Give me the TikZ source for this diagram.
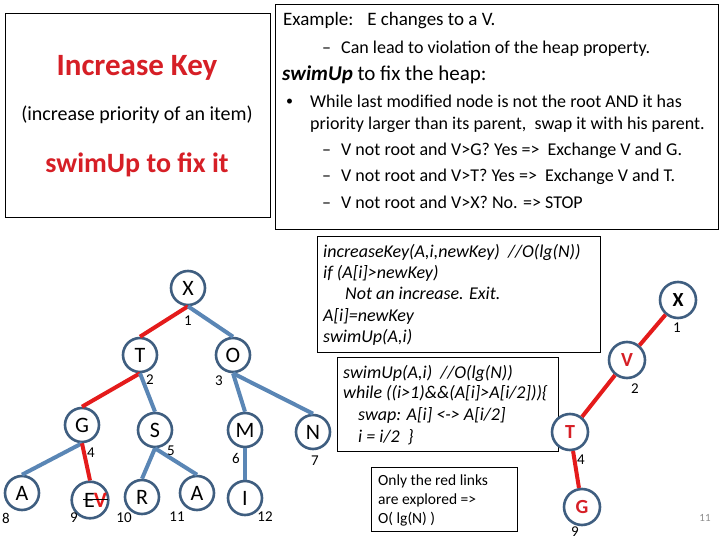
\documentclass[tikz,border=0pt]{standalone}
\usepackage{fontspec}
\setmainfont{Carlito}
\usepackage{xcolor}
\definecolor{ringblue}{HTML}{3F5E80}
\definecolor{linkblue}{HTML}{5A86B5}
\definecolor{linkred}{HTML}{E41B1B}
\definecolor{keyred}{HTML}{D61F26}
\definecolor{pagegray}{HTML}{8C8C8C}
\usetikzlibrary{positioning}

\newcommand{\fs}[1]{\fontsize{#1}{#1}\selectfont}

\begin{document}
\begin{tikzpicture}[
  x=1pt,y=-1pt,
  frame/.style={draw,line width=0.9pt,anchor=north west,inner sep=0pt},
  vertex/.style={circle,draw=ringblue,fill=white,line width=2.6pt,minimum size=34pt,inner sep=0pt,font=\fs{22}},
  bigvertex/.style={vertex,minimum size=36pt,font=\fs{20}\bfseries},
  idx/.style={inner sep=0pt,font=\fs{15}},
  link/.style={draw=linkblue,line width=4pt},
  redlink/.style={draw=linkred,line width=4pt},
  txt/.style={anchor=base west,inner sep=0pt,font=\fs{18}},
  code/.style={anchor=base west,inner sep=0pt,font=\fs{18}\itshape}
]
\useasboundingbox (0,0) rectangle (720,540);

% title box
\node[frame,minimum width=265pt,minimum height=204pt] (titlebox) at (5,13) {};
\node[font=\fs{31}\bfseries,text=keyred] (title) at (137,68) {Increase Key};
\node[font=\fs{20}] (subtitle) at (137,115) {(increase priority of an item)};
\node[font=\fs{28}\bfseries,text=keyred] (fixit) at (137,165) {swimUp to fix it};

% explanation box
\node[frame,minimum width=443pt,minimum height=225pt] (notebox) at (275,4) {};
\node[txt,font=\fs{19}] (example) at (283,26) {Example:\enspace\ E changes to a V.};
\node[txt] (d1) at (322,54) {--};
\node[txt] (lead) at (341,54) {Can lead to violation of the heap property.};
\node[txt,font=\fs{21}] (swimhead) at (282,81) {\textbf{\textit{swimUp}} to fix the heap:};
\node[txt,font=\fs{14}] (dot) at (286,106) {\textbullet};
\node[txt] (while) at (310,108) {While last modified node is not the root AND it has};
\node[txt] (prio) at (310,130) {priority larger than its parent,\ \ swap it with his parent.};
\node[txt] (d2) at (322,156) {--};
\node[txt] (stepG) at (341,156) {V not root and V>G? Yes =>\ \ Exchange V and G.};
\node[txt] (d3) at (322,182) {--};
\node[txt] (stepT) at (341,182) {V not root and V>T? Yes =>\ \ Exchange V and T.};
\node[txt] (d4) at (322,208) {--};
\node[txt] (stepX) at (341,208) {V not root and V>X? No. => STOP};

% code boxes
\node[frame,minimum width=283pt,minimum height=116pt] (incbox) at (317,236) {};
\node[code] (c1) at (323,257) {increaseKey(A,i,newKey)\ \ //O(lg(N))};
\node[code] (c2) at (323,278) {if (A[i]>newKey)};
\node[code] (c3) at (345,299) {Not an increase. Exit.};
\node[code] (c4) at (323,321) {A[i]=newKey};
\node[code] (c5) at (323,342) {swimUp(A,i)};

\node[frame,minimum width=221pt,minimum height=94pt] (swimbox) at (337,357) {};
\node[code] (s1) at (343,378) {swimUp(A,i)\ \ //O(lg(N))};
\node[code] (s2) at (343,398) {while ((i>1)\&\&(A[i]>A[i/2]))\{};
\node[code] (s3) at (358,420) {swap: A[i] <-> A[i/2]};
\node[code] (s4) at (358,442) {i = i/2\ \ \}};

\node[frame,minimum width=146pt,minimum height=64pt] (onlybox) at (371,467) {};
\node[txt,font=\fs{15.5}] (o1) at (378,485) {Only the red links};
\node[txt,font=\fs{15.5}] (o2) at (378,504) {are explored =>};
\node[txt,font=\fs{15.5}] (o3) at (378,523) {O( lg(N) )};

% heap before
\node[vertex] (X) at (188,288) {X};
\node[vertex] (T) at (140,355) {T};
\node[vertex] (O) at (233,355) {O};
\node[vertex] (G) at (82,425) {G};
\node[vertex] (S) at (155,430) {S};
\node[vertex] (M) at (245,430) {M};
\node[vertex] (N) at (313,432) {N};
\node[vertex] (A8) at (22,493) {A};
\node[vertex] (EV) at (90,500) {\hspace*{11pt}E\kern-1pt\textcolor{linkred}{\bfseries V}};
\node[vertex] (R) at (142,497) {R};
\node[vertex] (A11) at (197,493) {A};
\node[vertex] (I) at (245,498) {I};
\draw[line width=1pt] ([xshift=-7pt,yshift=1pt]EV.center) -- ([xshift=18pt,yshift=1pt]EV.center);

\draw[redlink] (X.south) -- (T.north);
\draw[link] (X.south) -- (O.north);
\draw[redlink] (T.south) -- (G.north);
\draw[link] (T.south) -- (S.north);
\draw[link] (O.south) -- (M.north);
\draw[link] (O.south) -- (N.north);
\draw[link] (G.south) -- (A8.north);
\draw[redlink] (G.south) -- (EV.north);
\draw[link] (S.south) -- (R.north);
\draw[link] (S.south) -- (A11.north);
\draw[link] (M.south) -- (I.north);

\node[idx] (i1) at (188,321) {1};
\node[idx] (i2) at (150,380) {2};
\node[idx] (i3) at (219,381) {3};
\node[idx] (i4) at (91,453) {4};
\node[idx] (i5) at (171,451) {5};
\node[idx] (i6) at (236,458) {6};
\node[idx] (i7) at (315,461) {7};
\node[idx] (i8) at (6,518) {8};
\node[idx] (i9) at (74,518) {9};
\node[idx] (i10) at (124,518) {10};
\node[idx] (i11) at (177,517) {11};
\node[idx] (i12) at (265,517) {12};

% heap after
\node[bigvertex] (rX) at (678,300) {X};
\node[bigvertex,text=keyred] (rV) at (627,360) {V};
\node[bigvertex,text=keyred] (rT) at (570,432) {T};
\node[bigvertex,text=keyred] (rG) at (582,507) {G};
\draw[redlink] (rX) -- (rV);
\draw[redlink] (rV) -- (rT);
\draw[redlink] (rT) -- (rG);
\node[idx] (r1) at (677,328) {1};
\node[idx] (r2) at (635,389) {2};
\node[idx] (r4) at (581,460) {4};
\node[idx] (r9) at (575,532) {9};

\node[inner sep=0pt,font=\fs{11},text=pagegray] (page) at (705,518) {11};
\end{tikzpicture}
\end{document}
